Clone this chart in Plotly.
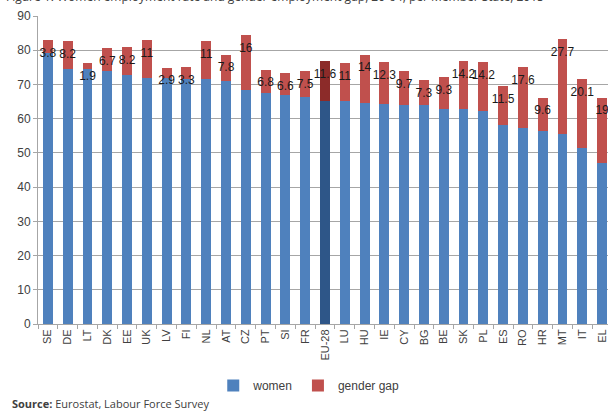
import plotly.graph_objects as go

# países / Member States
countries = ['SE', 'DE', 'LT', 'DK', 'EE', 'UK', 'LV', 'FI', 'NL', 'AT', 'CZ', 'PT', 'SI', 'FR',
             'EU-28', 'LU', 'HU', 'IE', 'CY', 'BG', 'BE', 'SK', 'PL', 'ES', 'RO', 'HR', 'MT', 'IT', 'EL']

# taxa de emprego das mulheres (%)
women = [79.2, 74.5, 74.4, 74.0, 72.7, 72.0, 72.0, 71.7, 71.6, 70.9, 68.5, 67.5, 66.8, 66.3,
         65.3, 65.2, 64.7, 64.3, 64.1, 64.0, 62.9, 62.7, 62.3, 58.1, 57.4, 56.5, 55.6, 51.5, 47.1]

# diferença entre homens e mulheres (pontos percentuais)
gender_gap = [3.8, 8.2, 1.9, 6.7, 8.2, 11, 2.9, 3.3, 11, 7.8, 16, 6.8, 6.6, 7.5,
              11.6, 11, 14, 12.3, 9.7, 7.3, 9.3, 14.2, 14.2, 11.5, 17.6, 9.6, 27.7, 20.1, 19]

gap_labels = ['3.8', '8.2', '1.9', '6.7', '8.2', '11', '2.9', '3.3', '11', '7.8', '16', '6.8', '6.6', '7.5',
              '11.6', '11', '14', '12.3', '9.7', '7.3', '9.3', '14.2', '14.2', '11.5', '17.6', '9.6', '27.7', '20.1', '19']

BLUE, RED = '#4F81BD', '#C0504D'
BLUE_EU, RED_EU = '#2E5688', '#8C2B29'

blue_cols = [BLUE_EU if c == 'EU-28' else BLUE for c in countries]
red_cols = [RED_EU if c == 'EU-28' else RED for c in countries]

fig = go.Figure()
fig.add_trace(go.Bar(x=countries, y=women, name='women', marker_color=blue_cols,
                     marker_line_width=0))
fig.add_trace(go.Bar(x=countries, y=gender_gap, name='gender gap', marker_color=red_cols,
                     marker_line_width=0))

# rótulos "inside end" do segmento vermelho
label_y = [w + g - 4 for w, g in zip(women, gender_gap)]
fig.add_trace(go.Scatter(x=countries, y=label_y, mode='text', text=gap_labels,
                         textfont=dict(size=12, color='#1a1a1a', family='Liberation Sans, Arial'),
                         showlegend=False, hoverinfo='skip', cliponaxis=False))

fig.update_layout(
    barmode='stack',
    bargap=0.5,
    width=608, height=412,
    margin=dict(l=38, r=0, t=16, b=88, autoexpand=False),
    plot_bgcolor='white', paper_bgcolor='white',
    font=dict(family='Liberation Sans, Arial', color='#404040'),
    legend=dict(orientation='h', x=0.475, xanchor='center', y=-0.2, yanchor='middle',
                font=dict(size=12, color='#404040'), traceorder='normal', itemwidth=30),
    showlegend=True,
)

fig.update_xaxes(
    range=[-0.5, 28.3],
    automargin=False,
    tickangle=-90,
    tickfont=dict(size=11, color='#404040'),
    showline=True, linecolor='#a6a6a6', linewidth=1,
    ticks='outside', tickson='boundaries', ticklen=4, tickcolor='#a6a6a6',
    showgrid=False,
)
fig.update_yaxes(
    range=[0, 90], dtick=10,
    automargin=False,
    tickfont=dict(size=12, color='#404040'),
    showgrid=True, gridcolor='#a6a6a6', gridwidth=1,
    showline=True, linecolor='#a6a6a6', linewidth=1,
    ticks='outside', ticklen=4, tickcolor='#a6a6a6',
    zeroline=False,
)

# título cortado no topo da imagem
fig.add_annotation(
    text='Figure 1: Women employment rate and gender employment gap, 20-64, per Member State, 2015',
    xref='paper', yref='paper', x=-0.06, y=1 + 19 / 308, xanchor='left', yanchor='middle',
    showarrow=False, font=dict(size=12, color='#404040', family='Open Sans, Arial'))

fig.add_annotation(
    text='<b>Source:</b> Eurostat, Labour Force Survey',
    xref='paper', yref='paper', x=-28 / 570, y=-79 / 308, xanchor='left', yanchor='middle',
    showarrow=False, font=dict(size=11, color='#404040', family='Open Sans, Arial'))

# a página tem margem de 8px por padrão; zera para a figura ocupar a janela
fig.write_html("out.html", config={'displayModeBar': False},
               post_script="document.body.style.margin='0';")
